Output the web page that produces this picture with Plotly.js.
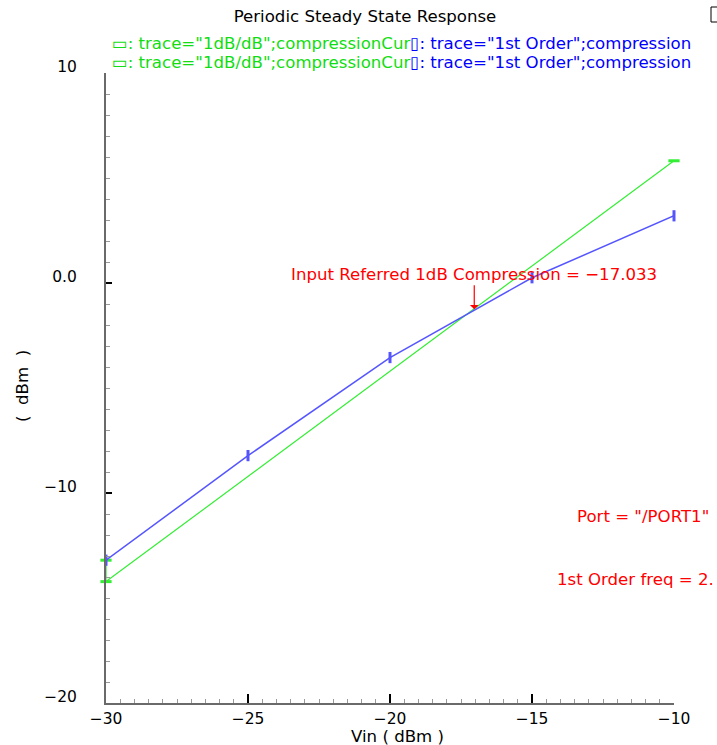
<!DOCTYPE html>
<html>
<head>
<meta charset="utf-8">
<script src="https://cdn.plot.ly/plotly-3.0.1.min.js"></script>
<style>html,body{margin:0;padding:0;background:#fff;}#chart{width:717px;height:745px;}</style>
</head>
<body>
<div id="chart"></div>
<script>
// ---- data ----
const vinFirstOrder = [-30, -25, -20, -15, -10];
const poutFirstOrder = [-13.2, -8.22, -3.55, 0.25, 3.2];
const vinRef = [-30, -30, -10];
const poutRef = [-13.2, -14.22, 5.82];
const compressionX = -17.033;
const compressionY = -1.25;
const xTickVals = [-30, -25, -20, -15, -10];
const xTickText = ["\u221230", "\u221225", "\u221220", "\u221215", "\u221210"];
const yTickVals = [10, 0, -10, -20];
const yTickText = ["10", "0.0", "\u221210", "\u221220"];
const titleText = "Periodic Steady State Response";
const xTitleText = "Vin ( dBm )";
const yTitleText = "(  dBm  )";
const legendGreen = "\u25AD: trace=\"1dB/dB\";compressionCur";
const legendBlue = "\u25AF: trace=\"1st Order\";compression";
const compText = "Input Referred 1dB Compression = \u221217.033";
const portText = "Port = \"/PORT1\"";
const freqText = "1st Order freq = 2.";

const FONT = "DejaVu Sans, sans-serif";
const FS = 16.6;
const W = 717, H = 745, L = 106, R = 43, T = 73, B = 42;
const pw = W - L - R, ph = H - T - B;
const px = v => (v - L) / pw;
const py = v => (H - B - v) / ph;

const traces = [
  {x: vinRef, y: poutRef, mode: "lines+markers", cliponaxis: false,
   line: {color: "#33ee33", width: 1.2},
   marker: {symbol: "line-ew-open", size: 8, line: {color: "#22dd22", width: 3}}},
  {x: vinFirstOrder, y: poutFirstOrder, mode: "lines+markers", cliponaxis: false,
   line: {color: "#5555ff", width: 1.5},
   marker: {symbol: "line-ns-open", size: 8, line: {color: "#0000ff", width: 3}}}
];

const legendRow = `<span style="color:#11dd11">${legendGreen}</span><span style="color:#0000ff">${legendBlue}</span>`;

const layout = {
  width: W, height: H,
  margin: {l: L, r: R, t: T, b: B},
  paper_bgcolor: "#fff", plot_bgcolor: "#fff",
  showlegend: false,
  font: {family: FONT, size: FS, color: "#000"},
  title: {text: titleText, x: 365 / W, xanchor: "center", y: 1 - 16 / H, yanchor: "middle",
          font: {family: FONT, size: FS, color: "#000"}},
  xaxis: {range: [-30, -10], tickvals: xTickVals, ticktext: xTickText,
          showgrid: false, zeroline: false, showline: true, linecolor: "#6a6a6a", linewidth: 2,
          ticks: "inside", ticklen: 9, tickcolor: "#000", tickwidth: 1.5,
          minor: {dtick: 0.5, ticks: "inside", ticklen: 4, tickcolor: "#999", tickwidth: 1},
          tickfont: {family: FONT, size: 15.5, color: "#000"}, ticklabelstandoff: 0},
  yaxis: {range: [-20, 10], tickvals: yTickVals, ticktext: yTickText,
          showgrid: false, zeroline: false, showline: true, linecolor: "#6a6a6a", linewidth: 2,
          ticks: "inside", ticklen: 6, tickcolor: "#000", tickwidth: 1.5,
          minor: {dtick: 1, ticks: "inside", ticklen: 4, tickcolor: "#999", tickwidth: 1},
          tickfont: {family: FONT, size: 15.5, color: "#000"},
          ticklabelstandoff: 24, ticklabelshift: -6},
  annotations: [
    {xref: "paper", yref: "paper", x: px(110), y: py(44), xanchor: "left", yanchor: "middle",
     showarrow: false, text: legendRow, font: {family: FONT, size: FS}},
    {xref: "paper", yref: "paper", x: px(110), y: py(62), xanchor: "left", yanchor: "middle",
     showarrow: false, text: legendRow, font: {family: FONT, size: FS}},
    {xref: "x", yref: "y", x: compressionX, y: compressionY, showarrow: true,
     ax: 0, ay: -35, arrowcolor: "#ff0000", arrowhead: 1, arrowwidth: 1.2, arrowsize: 1.2,
     text: compText, font: {family: FONT, size: FS, color: "#ff0000"}},
    {xref: "paper", yref: "paper", x: px(575), y: py(516), xanchor: "left", yanchor: "middle",
     showarrow: false, text: portText, font: {family: FONT, size: FS, color: "#ff0000"}},
    {xref: "paper", yref: "paper", x: px(555), y: py(579), xanchor: "left", yanchor: "middle",
     showarrow: false, text: freqText, font: {family: FONT, size: FS, color: "#ff0000"}},
    {xref: "paper", yref: "paper", x: px(397), y: py(736), xanchor: "center", yanchor: "middle",
     showarrow: false, text: xTitleText, font: {family: FONT, size: FS, color: "#000"}},
    {xref: "paper", yref: "paper", x: px(22), y: py(386), xanchor: "center", yanchor: "middle",
     textangle: -90, showarrow: false, text: yTitleText, font: {family: FONT, size: FS, color: "#000"}}
  ],
  shapes: [
    {type: "rect", xref: "paper", yref: "paper", x0: px(711), x1: px(722), y0: py(22), y1: py(7),
     line: {color: "#000", width: 1}}
  ]
};

Plotly.newPlot("chart", traces, layout, {displayModeBar: false, staticPlot: true});
</script>
</body>
</html>
